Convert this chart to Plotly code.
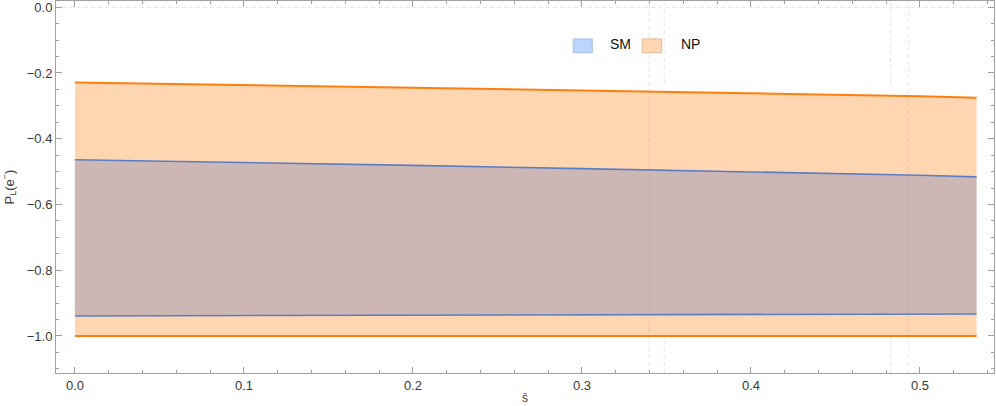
import plotly.graph_objects as go

# ── Data ──
s_hat = [0.0, 0.1, 0.2, 0.3, 0.4, 0.5, 0.5335]

np_upper = [-0.229, -0.238, -0.245, -0.253, -0.261, -0.271, -0.275]
np_lower = [-1.0, -1.0, -1.0, -1.0, -1.0, -1.0, -1.0]
sm_upper = [-0.464, -0.472, -0.481, -0.491, -0.500, -0.511, -0.516]
sm_lower = [-0.939, -0.938, -0.937, -0.936, -0.935, -0.934, -0.933]

x_ticks = [0.0, 0.1, 0.2, 0.3, 0.4, 0.5]
x_tick_labels = ["0.0", "0.1", "0.2", "0.3", "0.4", "0.5"]
y_ticks = [0.0, -0.2, -0.4, -0.6, -0.8, -1.0]
y_tick_labels = ["0.0", "\u22120.2", "\u22120.4", "\u22120.6", "\u22120.8", "\u22121.0"]

legend_names = ["SM", "NP"]

# dashed grid lines of the original frame
grid_full = [0.3398, 0.4931]
grid_part = [0.3487, 0.4827]

ORANGE = "#ff7f0e"
BLUE = "#5a7ec4"
NP_FILL = "rgba(255,127,14,0.32)"
SM_FILL = "rgba(88,114,188,0.30)"
FRAME = "#a0a0a0"
TXT = "#3a3a3a"
FONT = "Liberation Sans, Arial, sans-serif"

X_RANGE = [-0.0112, 0.5438]
Y_RANGE = [-1.1126, 0.019]

fig = go.Figure()

# NP band
fig.add_trace(go.Scatter(x=s_hat, y=np_lower, mode="lines",
                         line=dict(color=ORANGE, width=2), showlegend=False))
fig.add_trace(go.Scatter(x=s_hat, y=np_upper, mode="lines", fill="tonexty",
                         fillcolor=NP_FILL, line=dict(color=ORANGE, width=2),
                         showlegend=False))
# SM band
fig.add_trace(go.Scatter(x=s_hat, y=sm_lower, mode="lines",
                         line=dict(color=BLUE, width=1.6), showlegend=False))
fig.add_trace(go.Scatter(x=s_hat, y=sm_upper, mode="lines", fill="tonexty",
                         fillcolor=SM_FILL, line=dict(color=BLUE, width=1.6),
                         showlegend=False))

shapes = []
grid_style = dict(color="#e4e4e4", width=1, dash="4px,3px")
for gx in grid_full:
    shapes.append(dict(type="line", xref="x", yref="paper", x0=gx, x1=gx, y0=0, y1=1,
                       line=grid_style, layer="below"))
for gx in grid_part:
    shapes.append(dict(type="line", xref="x", yref="y", x0=gx, x1=gx, y0=-0.23, y1=Y_RANGE[1],
                       line=grid_style, layer="below"))
    shapes.append(dict(type="line", xref="x", yref="y", x0=gx, x1=gx, y0=Y_RANGE[0], y1=-1.0,
                       line=grid_style, layer="below"))
shapes.append(dict(type="line", xref="paper", yref="y", x0=0, x1=1, y0=0, y1=0,
                   line=grid_style, layer="below"))

# hand-made legend (square swatches like the original)
swatches = [("#bcd5fa", "#a6bfe2", 0.5515, 0.5717), ("#ffd5b2", "#e2b896", 0.6250, 0.6457)]
text_x = [0.5890, 0.6640]
annotations = []
for (fillc, edge, x0, x1), name, tx in zip(swatches, legend_names, text_x):
    shapes.append(dict(type="rect", xref="paper", yref="paper", x0=x0, x1=x1,
                       y0=0.861, y1=0.898, fillcolor=fillc, line=dict(color=edge, width=1)))
    annotations.append(dict(xref="paper", yref="paper", x=tx, y=0.8836, text=name,
                            showarrow=False, xanchor="left", yanchor="middle",
                            font=dict(family=FONT, size=14, color="#111")))

axis_common = dict(showline=True, linecolor=FRAME, linewidth=1, mirror="allticks",
                   ticks="inside", ticklen=6, tickcolor=FRAME, tickwidth=1,
                   showgrid=False, zeroline=False, automargin=False,
                   ticklabeloverflow="allow",
                   tickfont=dict(family=FONT, size=13, color=TXT))

fig.update_layout(
    width=996, height=406,
    margin=dict(l=56, r=2, t=1, b=33),
    paper_bgcolor="white", plot_bgcolor="white",
    showlegend=False,
    shapes=shapes, annotations=annotations,
    xaxis=dict(range=X_RANGE, tickvals=x_ticks, ticktext=x_tick_labels,
               minor=dict(dtick=0.02, tick0=0, ticks="inside", ticklen=3, tickcolor=FRAME),
               title=dict(text="\u015d", standoff=2, font=dict(family=FONT, size=12, color=TXT)),
               **axis_common),
    yaxis=dict(range=Y_RANGE, tickvals=y_ticks, ticktext=y_tick_labels,
               minor=dict(dtick=0.05, tick0=0, ticks="inside", ticklen=3, tickcolor=FRAME),
               title=dict(text="P<sub>L</sub>(e<sup>\u2212</sup>)", standoff=9,
                          font=dict(family=FONT, size=13, color=TXT)),
               **axis_common),
)

# page body has a default 8px margin; drop it so the figure sits at the window corner
fig.write_html("out.html", config={"displayModeBar": False},
               post_script="document.body.style.margin='0px';")
